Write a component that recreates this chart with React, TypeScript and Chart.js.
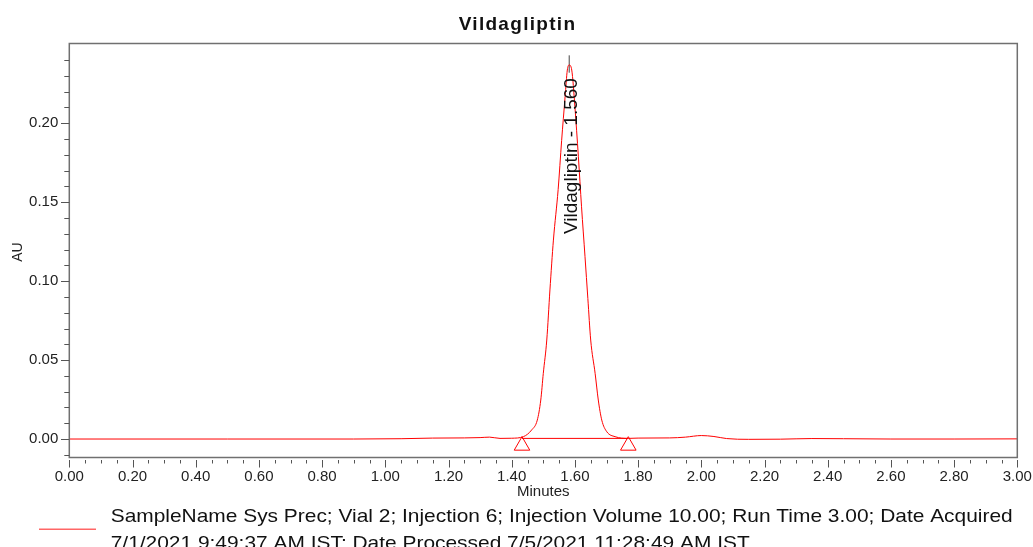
import { useEffect, useRef } from "react";
import { Chart, registerables } from "chart.js";

Chart.register(...registerables);

// ---- text ----
const chartTitle = "Vildagliptin";
const xAxisTitle = "Minutes";
const yAxisTitle = "AU";
const peakLabel = "Vildagliptin - 1.560";
const legendLines = [
  "SampleName Sys Prec; Vial 2; Injection 6; Injection Volume 10.00; Run Time 3.00; Date Acquired",
  "7/1/2021 9:49:37 AM IST; Date Processed 7/5/2021 11:28:49 AM IST",
];

// ---- chromatogram (minutes, AU) ----
const timeMin = [
  0.0, 0.5, 0.9, 1.05, 1.15, 1.25, 1.3, 1.33, 1.363, 1.4, 1.437, 1.463, 1.481, 1.492,
  1.5, 1.511, 1.521, 1.532, 1.547, 1.558, 1.569, 1.576, 1.582, 1.59, 1.6, 1.611,
  1.621, 1.632, 1.641, 1.65, 1.664, 1.674, 1.685, 1.701, 1.727, 1.769, 1.8, 1.9,
  1.95, 2.0, 2.04, 2.08, 2.15, 2.25, 2.35, 2.45, 2.6, 2.8, 3.0,
];
const signalAU = [
  0.0, 0.0, 0.0, 0.0002, 0.0006, 0.0007, 0.0009, 0.0012, 0.0004, 0.0005, 0.0015,
  0.0057, 0.012, 0.0247, 0.0416, 0.0627, 0.0944, 0.126, 0.158, 0.189, 0.2168, 0.2337,
  0.2369, 0.2337, 0.2105, 0.1788, 0.1471, 0.1155, 0.089, 0.0627, 0.0416, 0.0247,
  0.012, 0.0046, 0.0015, 0.0004, 0.0006, 0.0007, 0.0012, 0.0022, 0.0016, 0.0003,
  -0.0002, -0.0001, 0.0003, 0.0002, 0.0, 0.0, 0.0001,
];

// ---- integration marks ----
const peakBoundsMin = [1.4326, 1.769];
const baselineAU = [0.0004, 0.0004];
const markerAU = [-0.0042, -0.0042];
const apexTimeMin = 1.582;
const apexMarkAU = [0.232, 0.243];
const peakLabelEndAU = 0.2286;

// ---- axes ----
const xMin = 0;
const xMax = 3;
const yMin = -0.0117;
const yMax = 0.2505;
const xTickValues = [0, 0.2, 0.4, 0.6, 0.8, 1.0, 1.2, 1.4, 1.6, 1.8, 2.0, 2.2, 2.4, 2.6, 2.8, 3.0];
const yTickValues = [0, 0.05, 0.1, 0.15, 0.2];
const xMinorStep = 0.05;
const yMinorStep = 0.01;

const FONT = '"Liberation Sans", Arial, sans-serif';

const decorPlugin = {
  id: "decor",
  afterDraw(chart: any) {
    const { ctx, chartArea: a, scales } = chart;
    const x = scales.x;
    const y = scales.y;
    ctx.save();

    // frame
    ctx.strokeStyle = "#707070";
    ctx.lineWidth = 1.5;
    ctx.strokeRect(a.left, a.top, a.right - a.left, a.bottom - a.top);

    // y ticks
    ctx.strokeStyle = "#555";
    ctx.lineWidth = 1;
    for (let i = -1; i <= 24; i++) {
      const v = i * yMinorStep;
      const major = i % 5 === 0 && i >= 0;
      const py = Math.round(y.getPixelForValue(v)) + 0.5;
      const len = major ? 8.3 : 5;
      ctx.beginPath();
      ctx.moveTo(a.left - len, py);
      ctx.lineTo(a.left, py);
      ctx.stroke();
    }
    // x ticks
    for (let i = 0; i <= 60; i++) {
      const v = i * xMinorStep;
      const major = i % 4 === 0;
      const px = Math.round(x.getPixelForValue(v)) + 0.5;
      const top = a.bottom + 2.5;
      ctx.beginPath();
      ctx.moveTo(px, top);
      ctx.lineTo(px, top + (major ? 7.5 : 3.5));
      ctx.stroke();
    }

    // title
    ctx.fillStyle = "#111";
    ctx.font = `bold 19px ${FONT}`;
    (ctx as any).letterSpacing = "1.3px";
    ctx.textAlign = "center";
    ctx.textBaseline = "alphabetic";
    ctx.fillText(chartTitle, chart.width / 2 + 1, a.top - 14);
    (ctx as any).letterSpacing = "0px";

    // x axis title
    ctx.font = `15px ${FONT}`;
    ctx.fillStyle = "#222";
    ctx.fillText(xAxisTitle, (a.left + a.right) / 2, a.bottom + 38);

    // y axis title
    ctx.save();
    ctx.font = `14px ${FONT}`;
    ctx.translate(21.7, (a.top + a.bottom) / 2 + 1.5);
    ctx.rotate(-Math.PI / 2);
    ctx.textAlign = "center";
    ctx.fillText(yAxisTitle, 0, 0);
    ctx.restore();

    // peak label
    ctx.save();
    ctx.font = `19px ${FONT}`;
    ctx.fillStyle = "#111";
    ctx.translate(x.getPixelForValue(apexTimeMin) + 7.4, y.getPixelForValue(peakLabelEndAU));
    ctx.rotate(-Math.PI / 2);
    ctx.textAlign = "right";
    ctx.fillText(peakLabel, 0, 0);
    ctx.restore();

    // legend
    const ds = chart.data.datasets[0];
    ctx.strokeStyle = "#ff6666";
    ctx.lineWidth = 1.5;
    ctx.beginPath();
    ctx.moveTo(39, 529.3);
    ctx.lineTo(96, 529.3);
    ctx.stroke();
    ctx.font = `19px ${FONT}`;
    ctx.fillStyle = "#111";
    ctx.textAlign = "left";
    const lines: string[] = ds.legendLines;
    const w = ctx.measureText(lines[0]).width;
    const sx = 902 / w;
    lines.forEach((ln, i) => {
      ctx.save();
      ctx.translate(110.7, 521.7 + i * 27);
      ctx.scale(sx, 1);
      ctx.fillText(ln, 0, 0);
      ctx.restore();
    });

    ctx.restore();
  },
};

export default function App() {
  const ref = useRef<HTMLCanvasElement | null>(null);

  useEffect(() => {
    if (!ref.current) return;
    const chart = new Chart(ref.current, {
      type: "line",
      data: {
        datasets: [
          {
            label: legendLines.join(" "),
            legendLines,
            data: timeMin.map((t, i) => ({ x: t, y: signalAU[i] })),
            borderColor: "#ff0000",
            borderWidth: 1,
            pointRadius: 0,
            cubicInterpolationMode: "monotone",
            fill: false,
          } as any,
          {
            label: "Baseline",
            data: peakBoundsMin.map((t, i) => ({ x: t, y: baselineAU[i] })),
            borderColor: "#ff0000",
            borderWidth: 1,
            pointRadius: 0,
            fill: false,
          },
          {
            label: "Peak marks",
            data: peakBoundsMin.map((t, i) => ({ x: t, y: markerAU[i] })),
            showLine: false,
            pointStyle: "triangle",
            pointRadius: 9,
            pointBorderColor: "#ff0000",
            pointBackgroundColor: "rgba(0,0,0,0)",
            pointBorderWidth: 1,
          },
          {
            label: "Apex",
            data: apexMarkAU.map((v) => ({ x: apexTimeMin, y: v })),
            borderColor: "#444",
            borderWidth: 1,
            pointRadius: 0,
            fill: false,
          },
        ],
      },
      options: {
        animation: false,
        responsive: false,
        maintainAspectRatio: false,
        layout: { padding: { top: 43.5, right: 15.7, bottom: 0, left: 0 } },
        plugins: {
          legend: { display: false },
          title: { display: false },
          tooltip: { enabled: false },
        },
        scales: {
          x: {
            type: "linear",
            min: xMin,
            max: xMax,
            grid: { display: false, drawTicks: false },
            border: { display: false },
            afterBuildTicks: (s: any) => {
              s.ticks = xTickValues.map((v) => ({ value: v }));
            },
            afterFit: (s: any) => {
              s.height = 89.5;
              s.paddingLeft = 0;
              s.paddingRight = 0;
            },
            ticks: {
              padding: 10,
              maxRotation: 0,
              autoSkip: false,
              color: "#222",
              font: { family: FONT, size: 15 },
              callback: (v: any) => Number(v).toFixed(2),
            },
          },
          y: {
            type: "linear",
            min: yMin,
            max: yMax,
            grid: { display: false, drawTicks: false },
            border: { display: false },
            afterBuildTicks: (s: any) => {
              s.ticks = yTickValues.map((v) => ({ value: v }));
            },
            afterFit: (s: any) => {
              s.width = 69.3;
              s.paddingTop = 0;
              s.paddingBottom = 0;
            },
            ticks: {
              padding: 11,
              autoSkip: false,
              color: "#222",
              font: { family: FONT, size: 15 },
              callback: (v: any) => Number(v).toFixed(2),
            },
          },
        },
      } as any,
      plugins: [decorPlugin],
    });
    return () => chart.destroy();
  }, []);

  return (
    <canvas
      ref={ref}
      width={1033}
      height={547}
      style={{ display: "block", position: "fixed", left: 0, top: 0, background: "#fff" }}
    />
  );
}
